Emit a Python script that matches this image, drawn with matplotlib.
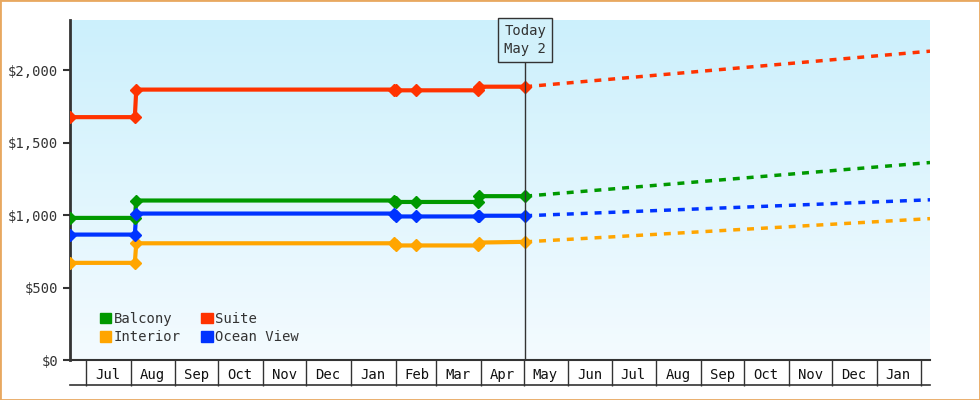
import numpy as np
import pandas as pd
import matplotlib.pyplot as plt
import matplotlib.dates as mdates
import matplotlib.patches as mpatches
from matplotlib.transforms import blended_transform_factory

plt.rcParams['font.family'] = 'DejaVu Sans Mono'

# observed price history (step changes)
hist_dates = pd.to_datetime(['2024-06-20', '2024-08-04', '2024-08-05', '2025-01-31', '2025-02-01',
                             '2025-02-15', '2025-03-30', '2025-03-31', '2025-05-02'])
balcony = [980, 980, 1100, 1100, 1090, 1090, 1090, 1130, 1130]
suite = [1675, 1675, 1865, 1865, 1860, 1860, 1860, 1885, 1885]
interior = [670, 670, 805, 805, 790, 790, 790, 810, 815]
ocean = [865, 865, 1010, 1010, 990, 990, 990, 995, 995]

# projected prices
fc_dates = pd.to_datetime(['2025-05-02', '2026-02-07'])
balcony_fc = [1130, 1362]
suite_fc = [1885, 2130]
interior_fc = [815, 975]
ocean_fc = [995, 1105]

marker_idx = [0, 1, 2, 3, 4, 5, 6, 7, 8]
today = pd.Timestamp('2025-05-02')
start, end = pd.Timestamp('2024-06-20'), pd.Timestamp('2026-02-07')

series = [('Balcony', balcony, balcony_fc, '#009900'),
          ('Suite', suite, suite_fc, '#ff3300'),
          ('Interior', interior, interior_fc, '#ffa500'),
          ('Ocean View', ocean, ocean_fc, '#0033ff')]

fig = plt.figure(figsize=(9.8, 4), dpi=100)
fig.patches.append(mpatches.Rectangle((0, 0), 1, 1, transform=fig.transFigure,
                                      fill=False, edgecolor='#e8a860', linewidth=2))
ax = fig.add_axes([70 / 980, 40 / 400, 860 / 980, 340 / 400])
ax.set_xlim(mdates.date2num(start), mdates.date2num(end))
ax.set_ylim(0, 2345)

# gradient background
grad = np.linspace(1, 0, 256).reshape(-1, 1)
from matplotlib.colors import LinearSegmentedColormap
cmap = LinearSegmentedColormap.from_list('bg', ['#f4fbff', '#ccf0fc'])
ax.imshow(grad, aspect='auto', cmap=cmap, origin='upper',
          extent=[mdates.date2num(start), mdates.date2num(end), 0, 2345], zorder=0)

for name, vals, fc, col in series:
    ax.plot(hist_dates, vals, color=col, linewidth=3, zorder=3)
    ax.plot(hist_dates, vals, linestyle='none', marker='D', markersize=6, color=col, zorder=4)
    ax.plot(fc_dates, fc, color=col, linewidth=2.5, linestyle=(0, (2, 2)), zorder=3)

ax.axvline(today, ymax=300 / 340, color='#333333', linewidth=1, zorder=5)
ax.text(today, 2345 - 20 / 0.145, 'Today\nMay 2', ha='center', va='center', fontsize=10,
        color='#333333', linespacing=1.4,
        bbox=dict(boxstyle='square,pad=0.45', facecolor='#d2f1fb', edgecolor='#333333'), zorder=6)

# axes styling
for s in ['top', 'right']:
    ax.spines[s].set_visible(False)
ax.spines['left'].set_color('#333333')
ax.spines['left'].set_linewidth(2)
ax.spines['bottom'].set_color('#333333')
ax.spines['bottom'].set_linewidth(1.5)
ax.set_yticks([0, 500, 1000, 1500, 2000])
ax.set_yticklabels(['$0', '$500', '$1,000', '$1,500', '$2,000'])
ax.tick_params(axis='y', length=5, width=1.5, color='#333333', labelsize=10, labelcolor='#333333')

month_starts = pd.date_range('2024-07-01', '2026-02-01', freq='MS')
month_mid = month_starts[:-1] + pd.Timedelta(days=15)
ax.set_xticks(month_starts, minor=True)
ax.set_xticks(month_mid)
ax.set_xticklabels([d.strftime('%b') for d in month_mid])
ax.tick_params(axis='x', which='minor', length=18.5, width=1, color='#333333', direction='out')
ax.tick_params(axis='x', which='major', length=0, pad=6, labelsize=10, labelcolor='#111111')
ax.plot([0, 1], [-25 / 340, -25 / 340], transform=ax.transAxes, color='#333333',
        linewidth=1.2, clip_on=False)

handles = [mpatches.Patch(color=c, label=n) for n, _, _, c in series]
order = [handles[0], handles[2], handles[1], handles[3]]
ax.legend(handles=order, ncol=2, loc='lower left', bbox_to_anchor=(0.02, 0.01), frameon=False,
          fontsize=10, handlelength=0.8, handleheight=0.8, handletextpad=0.2,
          columnspacing=1.5, labelspacing=0.3, labelcolor='#333333')

fig.savefig('out.png', dpi=100)
